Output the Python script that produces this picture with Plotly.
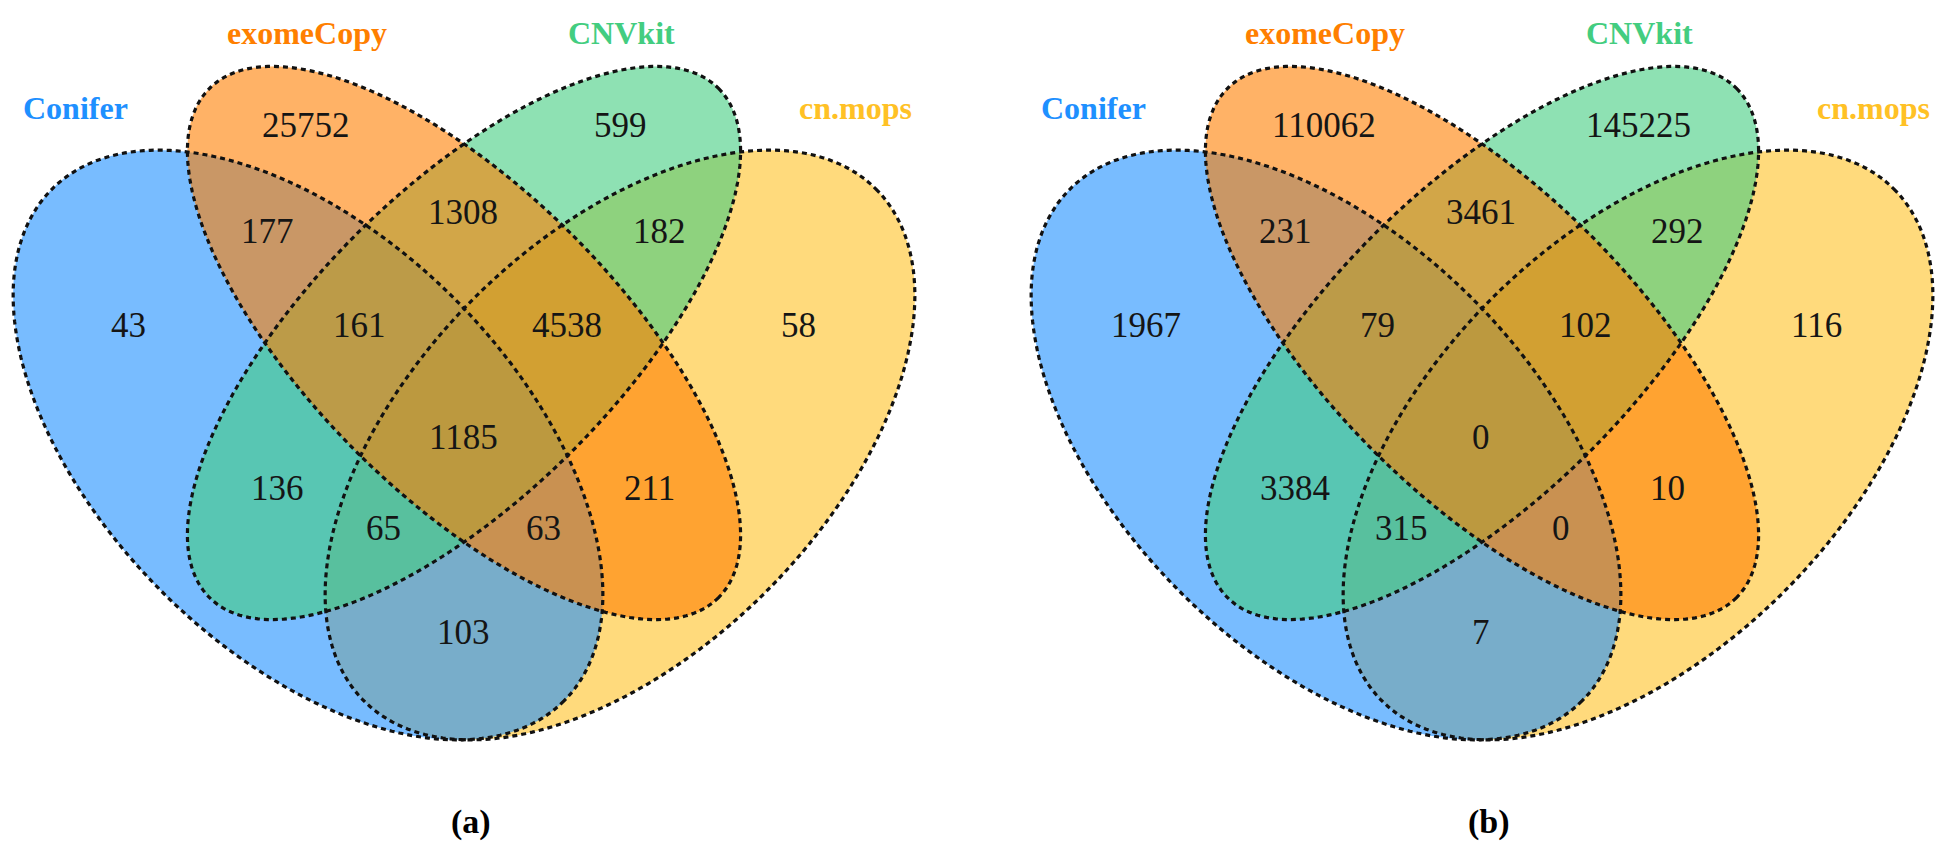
import numpy as np
import plotly.graph_objects as go

# ---------------- data ----------------
set_names = ["Conifer", "exomeCopy", "CNVkit", "cn.mops"]
set_colors = ["#1E90FF", "#FF7F00", "#43CD80", "#FFC125"]

# region keys (which sets each region belongs to)
region_keys = ["E", "K", "CE", "EK", "KM", "C", "CEK", "EKM", "M",
               "CEKM", "CK", "EM", "CKM", "CEM", "CM"]
counts_a = [25752, 599, 177, 1308, 182, 43, 161, 4538, 58,
            1185, 136, 211, 65, 63, 103]
counts_b = [110062, 145225, 231, 3461, 292, 1967, 79, 102, 116,
            0, 3384, 10, 315, 0, 7]
panel_labels = ["(a)", "(b)"]

# ---------------- layout geometry (pixels) ----------------
W, H = 1946, 853
panel_cx = [456, 1474]
SERIF = "Liberation Serif, Times New Roman, Times, Nimbus Roman, DejaVu Serif, serif"
# ellipse: (dx from panel centre, y centre, semi-major, semi-minor, angle deg)
ellipses = {
    "Conifer":   (-156, 437, 362, 207, 45),
    "exomeCopy": (0, 335, 360, 153, 45),
    "CNVkit":    (0, 335, 360, 153, -45),
    "cn.mops":   (156, 437, 362, 207, -45),
}
draw_order = ["cn.mops", "Conifer", "CNVkit", "exomeCopy"]
label_pos = {
    "E": (-158, 117), "K": (156, 117), "CE": (-197, 223), "EK": (-1, 204),
    "KM": (195, 223), "C": (-336, 317), "CEK": (-105, 317), "EKM": (103, 317),
    "M": (334, 317), "CEKM": (-1, 429), "CK": (-187, 480), "EM": (185, 480),
    "CKM": (-81, 520), "CEM": (79, 520), "CM": (-1, 624),
}
title_pos = {"Conifer": (-389, 100), "exomeCopy": (-157, 25),
             "CNVkit": (157, 25), "cn.mops": (391, 100)}


def hex_rgba(h, a):
    h = h.lstrip("#")
    return "rgba(%d,%d,%d,%.2f)" % (int(h[0:2], 16), int(h[2:4], 16), int(h[4:6], 16), a)


def ellipse_path(cx, cy, a, b, ang):
    t = np.linspace(0, 2 * np.pi, 240)
    th = np.deg2rad(ang)
    x = cx + a * np.cos(t) * np.cos(th) - b * np.sin(t) * np.sin(th)
    y = cy + a * np.cos(t) * np.sin(th) + b * np.sin(t) * np.cos(th)
    return "M " + " L ".join("%.2f,%.2f" % (xx, yy) for xx, yy in zip(x, y)) + " Z"


fig = go.Figure()
# invisible trace so axes exist
fig.add_trace(go.Scatter(x=[0, W], y=[0, H], mode="markers",
                         marker=dict(opacity=0), hoverinfo="skip", showlegend=False))

shapes = []
annotations = []
for p, counts in enumerate([counts_a, counts_b]):
    pcx = panel_cx[p]
    # fills
    for name in draw_order:
        dx, cy, a, b, ang = ellipses[name]
        col = set_colors[set_names.index(name)]
        shapes.append(dict(type="path", path=ellipse_path(pcx + dx, cy, a, b, ang),
                           xref="x", yref="y", fillcolor=hex_rgba(col, 0.6),
                           line=dict(width=0), layer="above"))
    # outlines
    for name in draw_order:
        dx, cy, a, b, ang = ellipses[name]
        shapes.append(dict(type="path", path=ellipse_path(pcx + dx, cy, a, b, ang),
                           xref="x", yref="y", fillcolor="rgba(0,0,0,0)",
                           line=dict(color="#111111", width=3.2, dash="5px,4px"),
                           layer="above"))
    # region counts
    for key, val in zip(region_keys, counts):
        lx, ly = label_pos[key]
        annotations.append(dict(x=pcx + lx, y=ly, xref="x", yref="y", text=str(val),
                                showarrow=False,
                                font=dict(family=SERIF, size=35, color="#151515")))
    # set titles
    for name, col in zip(set_names, set_colors):
        tx, ty = title_pos[name]
        annotations.append(dict(x=pcx + tx, y=ty, xref="x", yref="y",
                                text="<b>%s</b>" % name, showarrow=False,
                                font=dict(family=SERIF, size=32, color=col)))
    annotations.append(dict(x=pcx + 7, y=814, xref="x", yref="y",
                            text="<b>%s</b>" % panel_labels[p], showarrow=False,
                            font=dict(family=SERIF, size=34, color="#000000")))

fig.update_layout(
    width=W, height=H, margin=dict(l=0, r=0, t=0, b=0),
    paper_bgcolor="white", plot_bgcolor="white",
    font=dict(family=SERIF),
    xaxis=dict(range=[0, W], visible=False, fixedrange=True),
    yaxis=dict(range=[H, 0], visible=False, fixedrange=True),
    shapes=shapes, annotations=annotations, showlegend=False,
)
fig.write_html("out.html")
